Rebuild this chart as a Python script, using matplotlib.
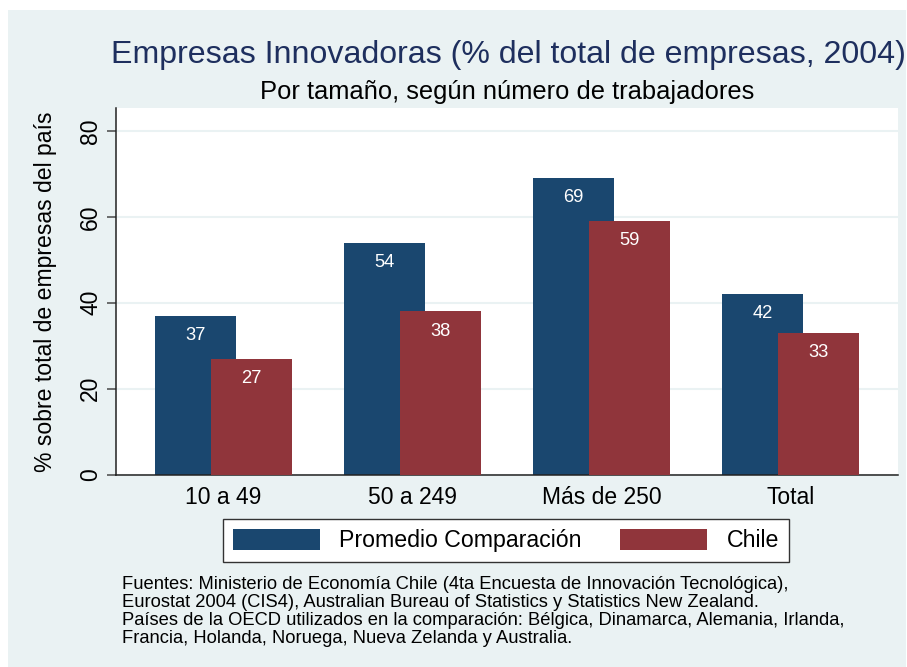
import matplotlib
matplotlib.use("Agg")
import matplotlib.pyplot as plt
from matplotlib.patches import Rectangle, Patch
import numpy as np

plt.rcParams['font.family'] = ['Liberation Sans', 'DejaVu Sans']

categories = ["10 a 49", "50 a 249", "Más de 250", "Total"]
promedio = [37, 54, 69, 42]
chile = [27, 38, 59, 33]
yticks = [0, 20, 40, 60, 80]
series_names = ["Promedio Comparación", "Chile"]
title = "Empresas Innovadoras (% del total de empresas, 2004)"
subtitle = "Por tamaño, según número de trabajadores"
ylabel = "% sobre total de empresas del país"
notes = [
    "Fuentes: Ministerio de Economía Chile (4ta Encuesta de Innovación Tecnológica),",
    "Eurostat 2004 (CIS4), Australian Bureau of Statistics y Statistics New Zealand.",
    "Países de la OECD utilizados en la comparación: Bélgica, Dinamarca, Alemania, Irlanda,",
    "Francia, Holanda, Noruega, Nueva Zelanda y Australia.",
]

W, H = 907, 667
BG = '#EAF2F3'
BLUE = '#1A476F'
RED = '#90353B'
TITLE_C = '#1E2F5E'

fig = plt.figure(figsize=(W / 100, H / 100), dpi=100)
fig.patch.set_facecolor('white')
fig.add_artist(Rectangle((8 / W, 0), (906 - 8) / W, (H - 10) / H,
                         transform=fig.transFigure, facecolor=BG,
                         edgecolor='none', zorder=-10))

def fx(px):
    return px / W

def fy(py):
    return 1 - py / H

ax = fig.add_axes([fx(116), fy(474.7), fx(898 - 116), (474.7 - 108) / H])
ax.set_facecolor('white')

x = np.arange(len(categories))
bw = 0.4286
off = 0.148
ax.bar(x - off, promedio, width=bw, color=BLUE, zorder=2, linewidth=0)
ax.bar(x + off, chile, width=bw, color=RED, zorder=3, linewidth=0)

for xi, v in zip(x - off, promedio):
    ax.annotate(str(v), xy=(xi, v), xytext=(0, -14.2), textcoords='offset points',
                ha='center', va='center', color='white', fontsize=13.2, zorder=5)
for xi, v in zip(x + off, chile):
    ax.annotate(str(v), xy=(xi, v), xytext=(0, -14.2), textcoords='offset points',
                ha='center', va='center', color='white', fontsize=13.2, zorder=5)

ax.set_xlim(-0.568, len(categories) - 1 + 0.566)
ax.set_ylim(0, 85.3)
ax.set_yticks(yticks)
ax.set_yticklabels([str(t) for t in yticks], rotation=90, va='center', fontsize=16.5)
ax.set_xticks(x)
ax.set_xticklabels(categories, fontsize=16.5)
ax.tick_params(axis='x', length=0, pad=8)
ax.tick_params(axis='y', length=6.5, width=1.2, color='#555555', pad=3.5)
ax.yaxis.grid(True, color=BG, linewidth=1.5, zorder=0)
ax.set_axisbelow(True)
for s in ['top', 'right']:
    ax.spines[s].set_visible(False)
for s in ['left', 'bottom']:
    ax.spines[s].set_color('#222222')
    ax.spines[s].set_linewidth(1.1)

fig.text(fx(508.5), fy(62.7), title, ha='center', va='baseline', fontsize=23.1, color=TITLE_C)
fig.text(fx(507), fy(99), subtitle, ha='center', va='baseline', fontsize=18.4, color='black')
fig.text(fx(46), fy(291.5), ylabel, rotation=90, ha='center', va='center', fontsize=16.6)

handles = [Patch(facecolor=BLUE, edgecolor='none'), Patch(facecolor=RED, edgecolor='none')]
leg = fig.legend(handles, series_names, loc='upper left',
                 bbox_to_anchor=(fx(223), fy(519)), bbox_transform=fig.transFigure,
                 ncol=2, fontsize=16.7, frameon=True, fancybox=False, framealpha=1,
                 edgecolor='#333333', borderpad=0.42, handlelength=3.75, handleheight=1.0,
                 handletextpad=0.85, columnspacing=1.65, borderaxespad=0)
leg.get_frame().set_linewidth(1.0)

for i, line in enumerate(notes):
    fig.text(fx(122), fy(589 + 18 * i), line, ha='left', va='baseline', fontsize=13.2, color='black')

fig.savefig('out.png', dpi=100, facecolor=fig.get_facecolor())
